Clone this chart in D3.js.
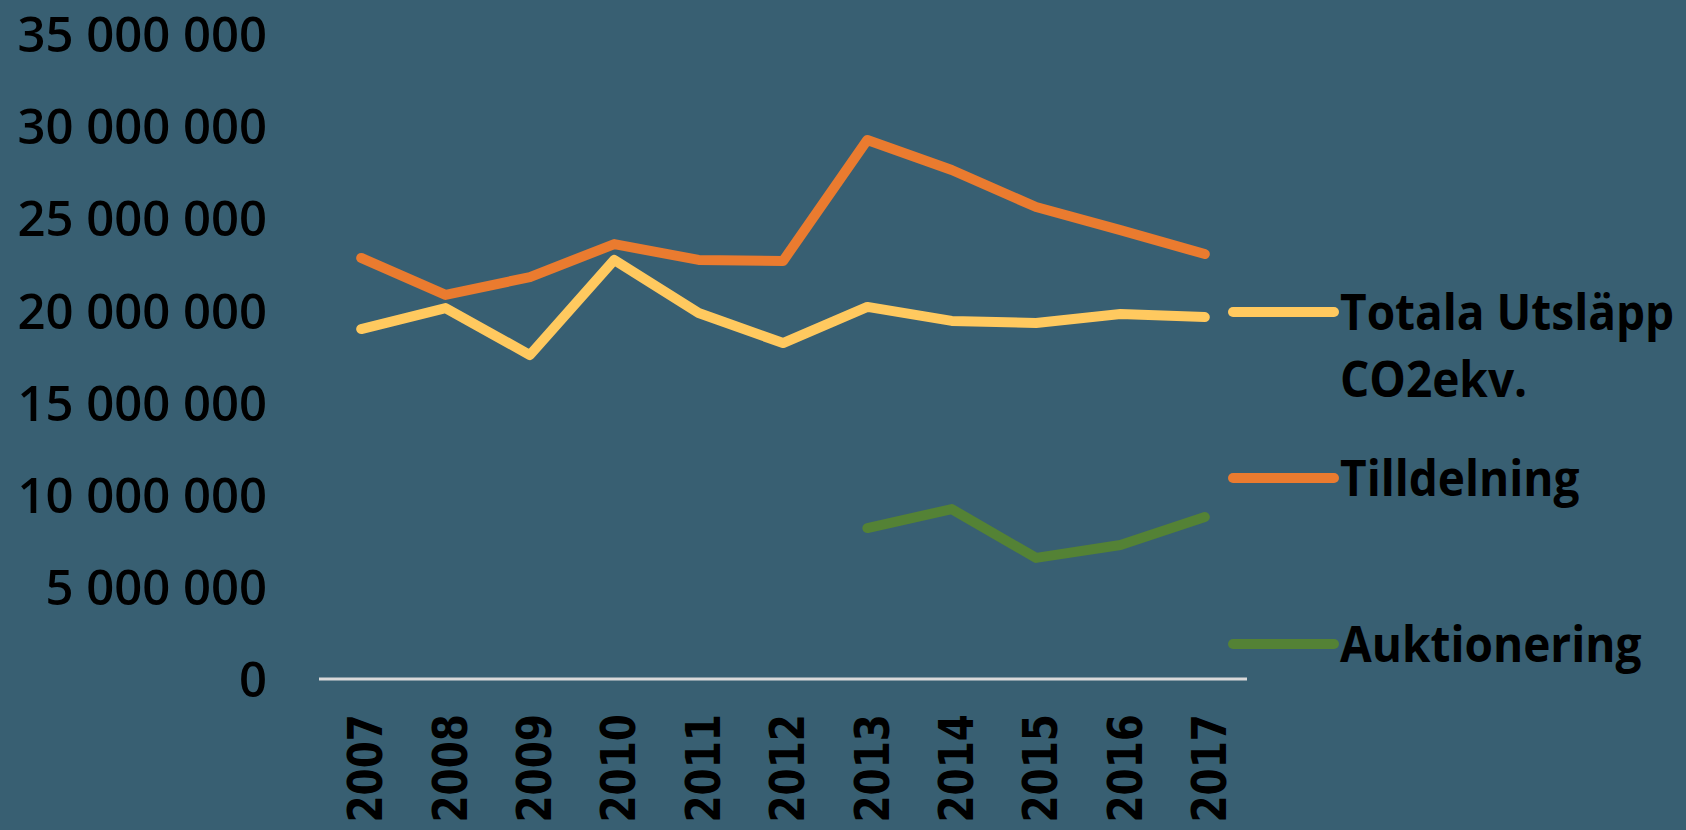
<!DOCTYPE html>
<html>
<head>
<meta charset="utf-8">
<script src="https://cdn.jsdelivr.net/npm/d3@7"></script>
<style>
  html, body { margin: 0; padding: 0; background: #385f72; overflow: hidden; }
  svg { display: block; }
</style>
</head>
<body>
<div id="chart-area"></div>
<script>
// data
var years = ["2007", "2008", "2009", "2010", "2011", "2012", "2013", "2014", "2015", "2016", "2017"];
var totala = [18990000, 20130000, 17580000, 22740000, 19860000, 18230000, 20190000, 19430000, 19320000, 19810000, 19640000];
var tilldelning = [22850000, 20840000, 21810000, 23600000, 22740000, 22680000, 29250000, 27620000, 25610000, 24360000, 23060000];
var auktionering = [null, null, null, null, null, null, 8190000, 9220000, 6570000, 7270000, 8790000];
var yTicks = [0, 5000000, 10000000, 15000000, 20000000, 25000000, 30000000, 35000000];

var series = [
  { name: ["Tilldelning"], values: tilldelning, color: "#ea7b2f" },
  { name: ["Totala Utsläpp", "CO2ekv."], values: totala, color: "#ffc95f" },
  { name: ["Auktionering"], values: auktionering, color: "#548235" }
];
var legendOrder = [series[1], series[0], series[2]];

var W = 1686, H = 830;
var svg = d3.select("#chart-area")
    .append("svg")
    .attr("width", W)
    .attr("height", H);

svg.append("rect")
    .attr("width", W)
    .attr("height", H)
    .attr("fill", "#385f72");

// Scales
var x = d3.scaleBand()
    .domain(years)
    .range([319, 1247]);
var y = d3.scaleLinear()
    .domain([0, 35000000])
    .range([679, 34]);

var fmt = function(d){ return d3.format(",")(d).replace(/,/g, " "); };

// Y axis labels (no axis line)
var yAxisCall = d3.axisLeft(y)
    .tickValues(yTicks)
    .tickSize(0)
    .tickPadding(0)
    .tickFormat(fmt);
var yAxis = svg.append("g")
    .attr("transform", "translate(267,0)")
    .call(yAxisCall);
yAxis.select(".domain").remove();
yAxis.selectAll("text")
    .attr("fill", "#000")
    .attr("font-family", "'Open Sans', sans-serif")
    .attr("font-weight", 600)
    .attr("font-size", "49px")
    .attr("dy", "0.36em");

// baseline
svg.append("line")
    .attr("x1", x.range()[0])
    .attr("x2", x.range()[1])
    .attr("y1", y(0))
    .attr("y2", y(0))
    .attr("stroke", "#d9d9d9")
    .attr("stroke-width", 3);

// X labels, rotated
svg.selectAll(".xlabel").data(years)
  .enter().append("text")
    .attr("class", "xlabel")
    .attr("transform", function(d){
        return "translate(" + (x(d) + x.bandwidth() / 2 + 4) + ",714) rotate(-90) scale(1,1.22)";
    })
    .attr("text-anchor", "end")
    .attr("dy", "0.36em")
    .attr("font-family", "'DejaVu Sans', sans-serif")
    .attr("font-weight", "bold")
    .attr("font-size", "39px")
    .attr("fill", "#000")
    .text(function(d){ return d; });

// Lines
var line = d3.line()
    .defined(function(d){ return d != null; })
    .x(function(d, i){ return x(years[i]) + x.bandwidth() / 2; })
    .y(function(d){ return y(d); });

svg.selectAll(".series").data(series)
  .enter().append("path")
    .attr("class", "series")
    .attr("d", function(d){ return line(d.values); })
    .attr("fill", "none")
    .attr("stroke", function(d){ return d.color; })
    .attr("stroke-width", 10)
    .attr("stroke-linecap", "round")
    .attr("stroke-linejoin", "round");

// Legend
var legendY = [312, 478, 644];
var legend = svg.selectAll(".legend").data(legendOrder)
  .enter().append("g")
    .attr("class", "legend")
    .attr("transform", function(d, i){ return "translate(1233," + legendY[i] + ")"; });

legend.append("line")
    .attr("x1", 0)
    .attr("x2", 101)
    .attr("stroke", function(d){ return d.color; })
    .attr("stroke-width", 10)
    .attr("stroke-linecap", "round");

legend.each(function(d){
    var t = d3.select(this).append("text")
        .attr("transform", "translate(107,18) scale(1,1.08)")
        .attr("font-family", "'Open Sans', sans-serif")
        .attr("font-weight", "bold")
        .attr("font-size", "46px")
        .attr("fill", "#000");
    d.name.forEach(function(s, i){
        t.append("tspan")
            .attr("x", 0)
            .attr("dy", i === 0 ? 0 : 62)
            .text(s);
    });
});
</script>
</body>
</html>
